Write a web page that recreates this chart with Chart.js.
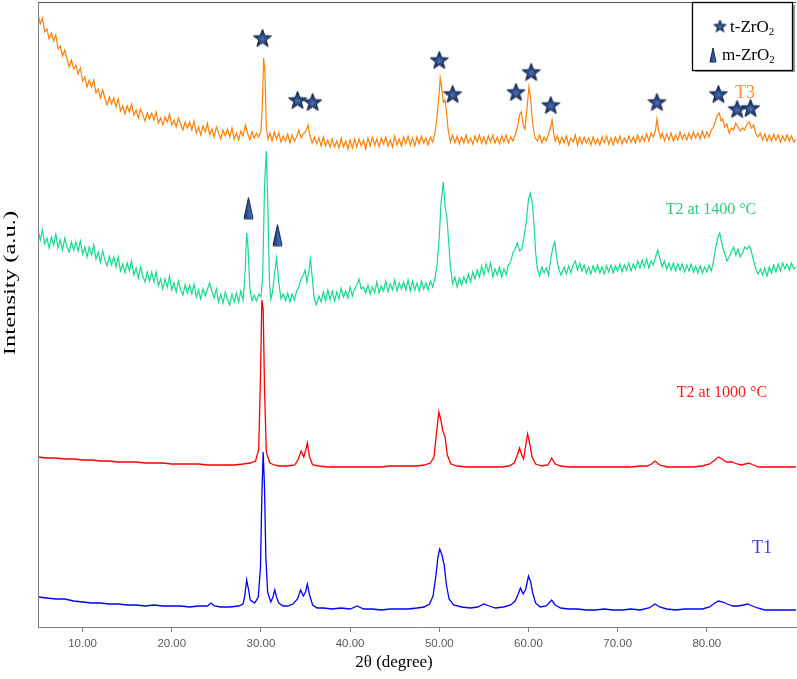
<!DOCTYPE html>
<html><head><meta charset="utf-8">
<script src="https://cdn.jsdelivr.net/npm/chart.js@4/dist/chart.umd.min.js"></script>
<style>html,body{margin:0;padding:0;background:#fff;overflow:hidden}canvas{display:block}</style>
</head><body>
<canvas id="c" width="797" height="679"></canvas>
<script>
// ---------- data ----------
const xTickValues = [10, 20, 30, 40, 50, 60, 70, 80];
const seriesNames = ['T1', 'T2 at 1000 °C', 'T2 at 1400 °C', 'T3'];

// [2θ, intensity]
const t1 = [[5,30],[6,29],[7,28],[8,28],[9,26],[10,25],[11,24],[12,24],[13,23],[14,23],[15,22],[16,22],[17,21],[18,22],[19,21],[20,21],[21,21],[22,20],[23,21],[24,21],[24.4,24],[24.8,21],[25.5,20],[26.5,20],[27.5,21],[28.0,23],[28.2,32],[28.4,47],[28.6,38],[28.8,27],[29.3,24],[29.7,30],[29.95,60],[30.1,130],[30.25,175],[30.4,140],[30.55,70],[30.75,35],[31.1,25],[31.35,30],[31.55,37],[31.75,30],[32.0,24],[32.5,21],[33.0,21],[33.6,23],[34.1,28],[34.45,37],[34.75,31],[35.0,35],[35.2,43],[35.45,32],[35.8,22],[36.3,19],[37,19],[38,18],[39,19],[40,18],[40.8,21],[41.5,18],[42.5,18],[43.5,17],[44.5,18],[45.5,18],[46.5,18],[47.5,19],[48.3,20],[48.9,23],[49.3,31],[49.6,50],[49.85,70],[50.05,78],[50.3,72],[50.55,62],[50.8,42],[51.1,28],[51.6,22],[52.5,20],[53.5,19],[54.3,20],[55.0,23],[55.6,21],[56.3,19],[57.2,20],[58.0,22],[58.5,26],[58.85,33],[59.1,39],[59.4,33],[59.7,38],[60.0,51],[60.25,45],[60.5,33],[60.8,24],[61.3,20],[62.0,21],[62.6,27],[63.0,22],[63.6,19],[64.5,18],[65.5,18],[66.5,17],[67.5,17],[68.5,18],[69.5,17],[70.5,17],[71.5,18],[72.5,17],[73.5,19],[74.2,23],[74.7,20],[75.5,18],[76.5,17],[77.5,18],[78.5,18],[79.5,18],[80.3,20],[80.9,24],[81.3,26],[81.8,25],[82.3,23],[82.9,21],[83.5,21],[84.1,22],[84.6,23],[85.1,21],[85.7,19],[86.5,17],[87.5,17],[88.5,17],[89.5,17],[90,17]];

const t2_1000 = [[5,170],[6,169],[7,169],[8,168],[9,168],[10,167],[11,167],[12,166],[13,166],[14,165],[15,165],[16,165],[17,164],[18,164],[19,164],[20,163],[21,163],[22,163],[23,163],[24,162],[25,162],[26,162],[27,162],[28,163],[28.8,164],[29.4,166],[29.75,178],[29.95,250],[30.1,327],[30.25,318],[30.4,240],[30.6,175],[31.0,164],[31.5,162],[32.0,161],[33.0,161],[33.8,162],[34.2,168],[34.5,176],[34.8,170],[35.05,178],[35.2,184],[35.45,170],[35.8,162],[36.5,161],[37.5,160],[38.5,160],[39.5,160],[40.5,160],[41.5,160],[42.5,160],[43.5,160],[44.5,161],[45.5,161],[46.5,161],[47.5,161],[48.3,162],[49.0,164],[49.4,170],[49.7,195],[49.95,215],[50.15,208],[50.4,196],[50.65,190],[50.9,172],[51.3,163],[52,161],[53,160],[54,160],[55,160],[56,160],[57,160],[57.8,161],[58.4,164],[58.75,172],[59.0,179],[59.25,172],[59.45,168],[59.7,182],[59.9,193],[60.15,183],[60.4,170],[60.8,163],[61.5,161],[62.2,162],[62.6,169],[63.0,163],[63.6,161],[64.5,160],[65.5,160],[66.5,160],[67.5,160],[68.5,160],[69.5,160],[70.5,160],[71.5,160],[72.5,161],[73.3,161],[73.8,163],[74.2,166],[74.7,162],[75.5,160],[76.5,160],[77.5,160],[78.5,160],[79.5,161],[80.3,163],[80.9,167],[81.3,170],[81.7,168],[82.2,165],[82.8,165],[83.4,163],[83.9,162],[84.3,163],[84.7,164],[85.2,162],[85.8,160],[86.5,160],[87.5,160],[88.5,160],[89.5,160],[90,160]];

const t2_1400 = [[5,397],[5.25,387],[5.5,397],[5.75,383],[6,389],[6.25,379],[6.5,390],[6.75,382],[7,393],[7.25,379],[7.5,387],[7.75,377],[8,389],[8.25,380],[8.5,375],[8.75,385],[9,377],[9.25,385],[9.5,376],[9.75,386],[10,373],[10.25,380],[10.5,370],[10.75,380],[11,372],[11.25,382],[11.5,368],[11.75,375],[12,365],[12.25,376],[12.5,367],[12.75,361],[13,371],[13.25,362],[13.5,370],[13.75,360],[14,370],[14.25,356],[14.5,363],[14.75,354],[15,364],[15.25,356],[15.5,366],[15.75,352],[16,359],[16.25,349],[16.5,360],[16.75,351],[17,345],[17.25,355],[17.5,346],[17.75,355],[18,345],[18.25,355],[18.5,341],[18.75,348],[19,338],[19.25,348],[19.5,340],[19.75,351],[20,337],[20.25,344],[20.5,335],[20.75,346],[21,337],[21.25,332],[21.5,342],[21.75,334],[22,342],[22.25,333],[22.5,343],[22.75,330],[23,337],[23.25,328],[23.5,338],[23.75,331],[24,338],[24.25,344],[24.5,336],[24.75,329],[25,338],[25.25,325],[25.5,333],[25.75,324],[26,335],[26.25,327],[26.5,322],[26.75,333],[27,325],[27.25,334],[27.5,325],[27.75,336],[28,327],[28.2,350],[28.4,394],[28.55,380],[28.75,340],[29,326],[29.25,332],[29.5,326],[29.75,333],[30,330],[30.2,350],[30.4,440],[30.6,476],[30.75,430],[30.95,345],[31.1,328],[31.3,335],[31.55,355],[31.75,369],[32,345],[32.25,328],[32.5,333],[32.75,326],[33,334],[33.25,325],[33.5,333],[33.75,327],[34,336],[34.25,340],[34.5,348],[34.75,352],[34.95,357],[35.15,345],[35.35,355],[35.55,368],[35.75,350],[35.95,330],[36.2,322],[36.5,331],[36.75,325],[37,335],[37.25,326],[37.5,337],[37.75,327],[38,336],[38.25,326],[38.5,335],[38.75,328],[39,339],[39.25,330],[39.5,336],[39.75,329],[40,340],[40.25,331],[40.5,338],[40.75,342],[41,348],[41.25,338],[41.5,340],[41.75,334],[42,342],[42.25,333],[42.5,340],[42.75,335],[43,345],[43.25,334],[43.5,341],[43.75,336],[44,346],[44.25,335],[44.5,343],[44.75,337],[45,347],[45.25,336],[45.5,344],[45.75,338],[46,345],[46.25,337],[46.5,347],[46.75,336],[47,346],[47.25,337],[47.5,344],[47.75,336],[48,346],[48.25,338],[48.5,344],[48.75,337],[49,346],[49.25,340],[49.5,348],[49.75,362],[50,390],[50.2,425],[50.45,445],[50.65,420],[50.85,410],[51.05,385],[51.25,360],[51.5,343],[51.75,350],[52,340],[52.25,349],[52.5,342],[52.75,350],[53,344],[53.25,353],[53.5,345],[53.75,355],[54,348],[54.25,357],[54.5,350],[54.75,361],[55,352],[55.25,363],[55.5,355],[55.75,364],[56,350],[56.25,358],[56.5,352],[56.75,360],[57,350],[57.25,358],[57.5,352],[57.75,362],[58,365],[58.25,374],[58.5,378],[58.75,384],[59,376],[59.25,378],[59.5,390],[59.75,405],[60,428],[60.2,434],[60.4,426],[60.6,405],[60.8,375],[61,358],[61.25,351],[61.5,360],[61.75,354],[62,359],[62.25,352],[62.5,368],[62.75,380],[62.95,385],[63.15,370],[63.4,358],[63.65,352],[64,360],[64.25,353],[64.5,361],[64.75,354],[65,362],[65.25,366],[65.5,357],[65.75,364],[66,356],[66.25,362],[66.5,354],[66.75,360],[67,353],[67.25,361],[67.5,355],[67.75,362],[68,354],[68.25,360],[68.5,353],[68.75,361],[69,355],[69.25,362],[69.5,354],[69.75,361],[70,356],[70.25,363],[70.5,355],[70.75,362],[71,357],[71.25,364],[71.5,356],[71.75,363],[72,358],[72.25,366],[72.5,359],[72.75,367],[73,360],[73.25,368],[73.5,359],[73.75,366],[74,362],[74.25,370],[74.5,377],[74.75,368],[75,360],[75.25,366],[75.5,358],[75.75,364],[76,357],[76.25,364],[76.5,356],[76.75,363],[77,357],[77.25,363],[77.5,355],[77.75,362],[78,356],[78.25,363],[78.5,355],[78.75,361],[79,354],[79.25,361],[79.5,354],[79.75,360],[80,355],[80.25,362],[80.5,356],[80.75,366],[81,380],[81.25,390],[81.45,394],[81.65,385],[81.85,378],[82.05,372],[82.25,366],[82.5,370],[82.75,375],[83,380],[83.25,372],[83.5,378],[83.75,370],[84,374],[84.25,380],[84.5,378],[84.75,381],[84.95,377],[85.25,366],[85.5,358],[85.75,353],[86,358],[86.25,352],[86.5,359],[86.75,351],[87,360],[87.25,354],[87.5,362],[87.75,355],[88,363],[88.25,356],[88.5,364],[88.75,358],[89,363],[89.25,357],[89.5,364],[89.75,358],[90,360]];

const t3 = [[5,613],[5.25,603],[5.5,609],[5.75,595],[6,598],[6.25,588],[6.5,594],[6.75,586],[7,592],[7.25,578],[7.5,581],[7.75,571],[8,577],[8.25,568],[8.5,560],[8.75,567],[9,558],[9.25,562],[9.5,553],[9.75,559],[10,546],[10.25,550],[10.5,540],[10.75,547],[11,540],[11.25,547],[11.5,534],[11.75,538],[12,529],[12.25,537],[12.5,529],[12.75,522],[13,530],[13.25,523],[13.5,529],[13.75,520],[14,528],[14.25,516],[14.5,521],[14.75,513],[15,521],[15.25,515],[15.5,523],[15.75,512],[16,517],[16.25,509],[16.5,518],[16.75,512],[17,506],[17.25,514],[17.5,508],[17.75,514],[18,507],[18.25,515],[18.5,504],[18.75,509],[19,502],[19.25,510],[19.5,505],[19.75,513],[20,502],[20.25,507],[20.5,500],[20.75,509],[21,503],[21.25,497],[21.5,505],[21.75,499],[22,505],[22.25,497],[22.5,506],[22.75,494],[23,500],[23.25,492],[23.5,501],[23.75,495],[24,504],[24.25,492],[24.5,498],[24.75,490],[25,500],[25.25,494],[25.5,488],[25.75,497],[26,491],[26.25,498],[26.5,490],[26.75,499],[27,488],[27.25,494],[27.5,487],[27.75,496],[28,491],[28.25,502],[28.5,494],[28.75,487],[29,495],[29.25,489],[29.5,494],[29.75,490],[30,496],[30.15,520],[30.3,569],[30.45,555],[30.6,500],[30.8,488],[31,494],[31.25,486],[31.5,495],[31.75,488],[32,494],[32.25,485],[32.5,491],[32.75,486],[33,493],[33.25,484],[33.5,492],[33.75,486],[34,490],[34.25,497],[34.5,489],[34.75,493],[35,495],[35.3,502],[35.5,491],[35.75,484],[36,490],[36.25,483],[36.5,489],[36.75,481],[37,490],[37.25,481],[37.5,487],[37.75,480],[38,488],[38.25,480],[38.5,486],[38.75,479],[39,489],[39.25,480],[39.5,486],[39.75,478],[40,487],[40.25,479],[40.5,488],[40.75,480],[41,488],[41.25,481],[41.5,487],[41.75,478],[42,489],[42.25,481],[42.5,490],[42.75,482],[43,488],[43.25,480],[43.5,489],[43.75,483],[44,490],[44.25,481],[44.5,487],[44.75,480],[45,491],[45.25,482],[45.5,488],[45.75,481],[46,490],[46.25,483],[46.5,491],[46.75,482],[47,489],[47.25,481],[47.5,490],[47.75,483],[48,491],[48.25,484],[48.5,489],[48.75,482],[49,490],[49.25,485],[49.5,493],[49.75,510],[50,535],[50.1,549],[50.25,540],[50.45,525],[50.65,527],[50.8,515],[51,497],[51.25,485],[51.5,492],[51.75,484],[52,491],[52.25,483],[52.5,490],[52.75,484],[53,492],[53.25,484],[53.5,489],[53.75,483],[54,491],[54.25,485],[54.5,492],[54.75,484],[55,490],[55.25,483],[55.5,491],[55.75,485],[56,492],[56.25,484],[56.5,490],[56.75,483],[57,491],[57.25,485],[57.5,492],[57.75,484],[58,490],[58.25,486],[58.5,492],[58.75,500],[59,512],[59.2,515],[59.4,502],[59.6,498],[59.8,515],[60.05,540],[60.25,528],[60.45,505],[60.7,490],[61,486],[61.25,492],[61.5,484],[61.75,490],[62,486],[62.25,493],[62.5,500],[62.65,507],[62.85,493],[63,486],[63.25,491],[63.5,483],[63.75,490],[64,484],[64.25,491],[64.5,482],[64.75,489],[65,485],[65.25,492],[65.5,482],[65.75,490],[66,483],[66.25,490],[66.5,484],[66.75,489],[67,482],[67.25,490],[67.5,483],[67.75,488],[68,482],[68.25,490],[68.5,484],[68.75,491],[69,483],[69.25,489],[69.5,482],[69.75,490],[70,484],[70.25,491],[70.5,483],[70.75,489],[71,484],[71.25,491],[71.5,485],[71.75,490],[72,484],[72.25,492],[72.5,485],[72.75,491],[73,486],[73.25,493],[73.5,486],[73.75,494],[74,490],[74.25,497],[74.4,508],[74.6,496],[74.85,489],[75,494],[75.25,486],[75.5,493],[75.75,487],[76,494],[76.25,486],[76.5,492],[76.75,487],[77,495],[77.25,488],[77.5,493],[77.75,487],[78,494],[78.25,488],[78.5,495],[78.75,489],[79,494],[79.25,488],[79.5,496],[79.75,489],[80,495],[80.25,490],[80.5,497],[80.75,500],[81,507],[81.2,512],[81.4,514],[81.6,506],[81.8,508],[82,500],[82.25,503],[82.5,494],[82.75,499],[83,497],[83.25,504],[83.5,500],[83.75,496],[84,499],[84.25,497],[84.5,503],[84.75,505],[85,499],[85.25,502],[85.5,493],[85.75,490],[86,494],[86.25,487],[86.5,493],[86.75,486],[87,492],[87.25,486],[87.5,493],[87.75,487],[88,492],[88.25,485],[88.5,491],[88.75,486],[89,492],[89.25,486],[89.5,491],[89.75,485],[90,488]];

// phase markers [2θ, intensity]
const tZrO2Marks = [[30.17,589],[34.1,527],[35.8,525],[50.0,567],[51.5,533],[58.6,535],[60.3,555],[62.5,522],[74.4,525],[81.3,533],[83.4,518],[84.9,519]];
const mZrO2Marks = [[28.6,419],[31.85,392]];

// curve labels [text, 2θ, intensity]
const curveLabels = [
  ['T3', 84.28, 534],
  ['T2 at 1400 °C', 80.47, 417],
  ['T2 at 1000 °C', 81.7, 234],
  ['T1', 86.18, 79]
];

// ---------- styles ----------
const colors = { t1: '#0000ff', t1000: '#ff0000', t1400: '#14dc8c', t3: '#ff8000' };
const labelColors = ['#ff8a3c', '#33c878', '#ff1a1a', '#3c3cf0'];
const SERIF = '"Liberation Serif", "Times New Roman", serif';

function makeStar(size) {
  const c = document.createElement('canvas');
  c.width = size; c.height = size;
  const g = c.getContext('2d');
  const cx = size / 2, cy = size / 2 + size * 0.04, R = size / 2 - 1, r = R * 0.42;
  g.beginPath();
  for (let i = 0; i < 10; i++) {
    const a = -Math.PI / 2 + i * Math.PI / 5;
    const rad = i % 2 ? r : R;
    g.lineTo(cx + rad * Math.cos(a), cy + rad * Math.sin(a));
  }
  g.closePath();
  const grd = g.createRadialGradient(cx, cy, 0, cx, cy, R);
  grd.addColorStop(0, '#4f74b8');
  grd.addColorStop(0.45, '#26427c');
  grd.addColorStop(1, '#1b2f5c');
  g.fillStyle = grd; g.fill();
  g.strokeStyle = '#14244a'; g.lineWidth = 1; g.stroke();
  return c;
}
function makeTri(w, h) {
  const c = document.createElement('canvas');
  c.width = w + 2; c.height = h + 2;
  const g = c.getContext('2d');
  g.beginPath();
  g.moveTo(1 + w / 2, 1);
  g.lineTo(1 + w, 1 + h);
  g.lineTo(1, 1 + h);
  g.closePath();
  const grd = g.createLinearGradient(1, 0, 1 + w, 0);
  grd.addColorStop(0, '#1b2f5c');
  grd.addColorStop(0.55, '#3560b0');
  grd.addColorStop(1, '#4a78c8');
  g.fillStyle = grd; g.fill();
  g.strokeStyle = '#14244a'; g.lineWidth = 1; g.stroke();
  return c;
}
const starImg = makeStar(21);
const triImg = makeTri(9, 21);
const starSmall = makeStar(15);
const triSmall = makeTri(6, 14);

const toXY = arr => arr.map(p => ({ x: p[0], y: p[1] }));

const deco = {
  id: 'deco',
  afterDraw(chart) {
    const { ctx, chartArea: a, scales: { x, y } } = chart;
    ctx.save();
    // frame: left, top
    ctx.strokeStyle = '#7f7f7f';
    ctx.lineWidth = 1;
    ctx.beginPath();
    ctx.moveTo(a.left + 0.5, a.bottom);
    ctx.lineTo(a.left + 0.5, a.top + 0.5);
    ctx.stroke();
    ctx.strokeStyle = '#555';
    ctx.beginPath();
    ctx.moveTo(a.left, a.top + 0.5);
    ctx.lineTo(a.right, a.top + 0.5);
    ctx.stroke();

    // curve labels
    ctx.textAlign = 'center';
    ctx.textBaseline = 'middle';
    curveLabels.forEach((l, i) => {
      ctx.font = (l[0].length < 4 ? '18px ' : '16px ') + SERIF;
      ctx.fillStyle = labelColors[i];
      ctx.fillText(l[0], x.getPixelForValue(l[1]), y.getPixelForValue(l[2]));
    });

    // axis titles
    ctx.fillStyle = '#000';
    ctx.font = '17px ' + SERIF;
    ctx.fillText('2θ (degree)', 394, 663);
    ctx.save();
    ctx.translate(11, 283);
    ctx.rotate(-Math.PI / 2);
    ctx.scale(1.45, 1);
    ctx.fillText('Intensity (a.u.)', 0, 0);
    ctx.restore();

    // legend box
    ctx.fillStyle = '#9a9a9a';
    ctx.fillRect(695, 70, 100, 2);
    ctx.fillRect(793, 5, 2, 67);
    ctx.fillStyle = '#fff';
    ctx.fillRect(692.5, 2.5, 100, 68);
    ctx.strokeStyle = '#000';
    ctx.lineWidth = 1.3;
    ctx.strokeRect(692.5, 2.5, 100, 68);
    ctx.drawImage(starSmall, 720 - 7.5, 26 - 7.5);
    ctx.drawImage(triSmall, 713 - 4, 55 - 8);
    ctx.fillStyle = '#000';
    ctx.textAlign = 'left';
    ctx.textBaseline = 'alphabetic';
    const legendRows = [['t-ZrO', 730, 32], ['m-ZrO', 722, 60]];
    legendRows.forEach(r => {
      ctx.font = '17px ' + SERIF;
      ctx.fillText(r[0], r[1], r[2]);
      const w = ctx.measureText(r[0]).width;
      ctx.font = '11px ' + SERIF;
      ctx.fillText('2', r[1] + w, r[2] + 3);
    });
    ctx.restore();
  }
};

new Chart(document.getElementById('c'), {
  type: 'line',
  data: {
    datasets: [
      { label: 't-ZrO2', data: toXY(tZrO2Marks), showLine: false, pointStyle: starImg, pointRadius: 10, borderWidth: 0, clip: false },
      { label: 'm-ZrO2', data: toXY(mZrO2Marks), showLine: false, pointStyle: triImg, pointRadius: 10, borderWidth: 0, clip: false },
      { label: seriesNames[0], data: toXY(t1), borderColor: colors.t1, borderWidth: 1.3, pointRadius: 0, tension: 0 },
      { label: seriesNames[1], data: toXY(t2_1000), borderColor: colors.t1000, borderWidth: 1.3, pointRadius: 0, tension: 0 },
      { label: seriesNames[2], data: toXY(t2_1400), borderColor: colors.t1400, borderWidth: 1.2, pointRadius: 0, tension: 0 },
      { label: seriesNames[3], data: toXY(t3), borderColor: colors.t3, borderWidth: 1.2, pointRadius: 0, tension: 0 }
    ]
  },
  options: {
    responsive: false,
    animation: false,
    devicePixelRatio: 1,
    layout: { autoPadding: false, padding: { left: 38, top: 2, right: 1, bottom: 0 } },
    plugins: { legend: { display: false }, tooltip: { enabled: false } },
    scales: {
      x: {
        type: 'linear', min: 5, max: 90,
        afterBuildTicks: s => { s.ticks = xTickValues.map(v => ({ value: v })); },
        afterFit: s => { s.height = 52; s.paddingLeft = 0; s.paddingRight = 0; },
        ticks: {
          color: '#595959', padding: 5,
          font: { family: '"Liberation Sans", Arial, sans-serif', size: 11.5 },
          callback: v => Number(v).toFixed(2),
          maxRotation: 0, autoSkip: false
        },
        grid: { display: true, drawOnChartArea: false, drawTicks: true, tickLength: 5, color: '#7f7f7f' },
        border: { display: true, color: '#7f7f7f', width: 1 }
      },
      y: { display: false, min: 0, max: 625 }
    }
  },
  plugins: [deco]
});
</script>
</body></html>
